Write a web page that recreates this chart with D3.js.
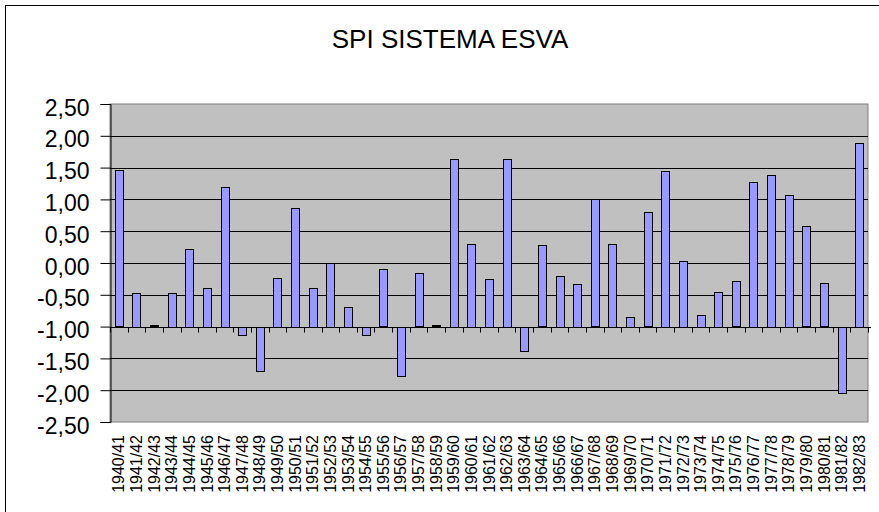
<!DOCTYPE html>
<html>
<head>
<meta charset="utf-8">
<script src="https://cdn.jsdelivr.net/npm/d3@7"></script>
<style>
  body { margin: 0; background: #fff; }
  svg text { font-family: Arial, "Liberation Sans", sans-serif; fill: #000; }
</style>
</head>
<body>
<svg id="chart" width="879" height="512"></svg>
<script>
// season labels
const seasons = [
  '1940/41','1941/42','1942/43','1943/44','1944/45','1945/46','1946/47','1947/48','1948/49','1949/50',
  '1950/51','1951/52','1952/53','1953/54','1954/55','1955/56','1956/57','1957/58','1958/59','1959/60',
  '1960/61','1961/62','1962/63','1963/64','1964/65','1965/66','1966/67','1967/68','1968/69','1969/70',
  '1970/71','1971/72','1972/73','1973/74','1974/75','1975/76','1976/77','1977/78','1978/79','1979/80',
  '1980/81','1981/82','1982/83'
];

// SPI values
const spi = [
  1.46, -0.47, -0.98, -0.47, 0.22, -0.39, 1.20, -1.12, -1.69, -0.23,
  0.87, -0.39, 0.00, -0.69, -1.12, -0.10, -1.77, -0.16, -0.98, 1.64,
  0.30, -0.25, 1.64, -1.37, 0.28, -0.20, -0.33, 1.00, 0.30, -0.85,
  0.80, 1.45, 0.03, -0.81, -0.45, -0.29, 1.28, 1.39, 1.07, 0.58,
  -0.32, -2.04, 1.89
];

const yTicks = [2.5, 2, 1.5, 1, 0.5, 0, -0.5, -1, -1.5, -2, -2.5];
const baseValue = -1; // category axis crosses here
const title = 'SPI SISTEMA ESVA';

const svg = d3.select('#chart');
const plot = { left: 110, top: 104, right: 868, bottom: 422 };

// chart area border (only left/top visible in the crop)
svg.append('rect')
  .attr('x', 5.5).attr('y', 5.5)
  .attr('width', 900).attr('height', 600)
  .attr('fill', '#fff')
  .attr('stroke', '#000')
  .attr('stroke-width', 1);

svg.append('text')
  .attr('x', 450)
  .attr('y', 48)
  .attr('text-anchor', 'middle')
  .style('font-size', '26px')
  .text(title);

const x = d3.scaleBand()
  .domain(seasons)
  .range([plot.left, plot.right])
  .paddingInner(0.55)
  .paddingOuter(0.275);

const y = d3.scaleLinear()
  .domain([-2.5, 2.5])
  .range([plot.bottom, plot.top]);

// plot area
svg.append('rect')
  .attr('x', plot.left).attr('y', plot.top)
  .attr('width', plot.right - plot.left)
  .attr('height', plot.bottom - plot.top)
  .attr('fill', '#c0c0c0')
  .attr('stroke', '#808080')
  .attr('stroke-width', 1);

// gridlines
svg.append('g')
  .selectAll('line')
  .data(yTicks.filter(d => d > -2.5 && d < 2.5))
  .join('line')
  .attr('x1', plot.left).attr('x2', plot.right)
  .attr('y1', d => Math.round(y(d)) + 0.5)
  .attr('y2', d => Math.round(y(d)) + 0.5)
  .attr('stroke', '#000');

// bars from the -1 baseline
svg.append('g')
  .selectAll('rect')
  .data(spi)
  .join('rect')
  .attr('x', (d, i) => Math.round(x(seasons[i])) + 0.5)
  .attr('width', Math.round(x.bandwidth()))
  .attr('y', d => Math.round(y(Math.max(d, baseValue))) + 0.5)
  .attr('height', d => Math.max(1, Math.round(Math.abs(y(d) - y(baseValue)))))
  .attr('fill', '#9999ff')
  .attr('stroke', '#000')
  .attr('stroke-width', 1);

// y axis
const yAxis = d3.axisLeft(y)
  .tickValues(yTicks)
  .tickSize(10)
  .tickPadding(11)
  .tickFormat(d => d3.format('.2f')(d).replace('.', ',').replace('−', '-'));

const yg = svg.append('g')
  .attr('transform', `translate(${plot.left + 0.5},0)`)
  .call(yAxis);
yg.select('.domain').attr('stroke', '#000');
yg.selectAll('.tick line').attr('stroke', '#000');
yg.selectAll('.tick text')
  .attr('dy', '0.48em')
  .style('font-size', '23px')
  .style('font-family', 'Arial, "Liberation Sans", sans-serif');

// category axis at -1
const baseY = Math.round(y(baseValue)) + 0.5;
const axisG = svg.append('g');
axisG.append('line')
  .attr('x1', plot.left).attr('x2', plot.right + 3)
  .attr('y1', baseY).attr('y2', baseY)
  .attr('stroke', '#000');
axisG.selectAll('line.tk')
  .data(d3.range(seasons.length + 1))
  .join('line')
  .attr('class', 'tk')
  .attr('x1', i => Math.round(plot.left + i * x.step()) + 0.5)
  .attr('x2', i => Math.round(plot.left + i * x.step()) + 0.5)
  .attr('y1', baseY).attr('y2', baseY + 5)
  .attr('stroke', '#000');

// category labels below the plot
const xAxis = d3.axisBottom(x).tickSize(0).tickPadding(0);
const xg = svg.append('g')
  .attr('transform', `translate(0,${plot.bottom})`)
  .call(xAxis);
xg.select('.domain').remove();
xg.selectAll('.tick text')
  .attr('transform', 'rotate(-90)')
  .attr('x', -13)
  .attr('y', 0)
  .attr('dy', '0.35em')
  .style('text-anchor', 'end')
  .style('font-size', '16px')
  .style('font-family', 'Arial, "Liberation Sans", sans-serif');
</script>
</body>
</html>
